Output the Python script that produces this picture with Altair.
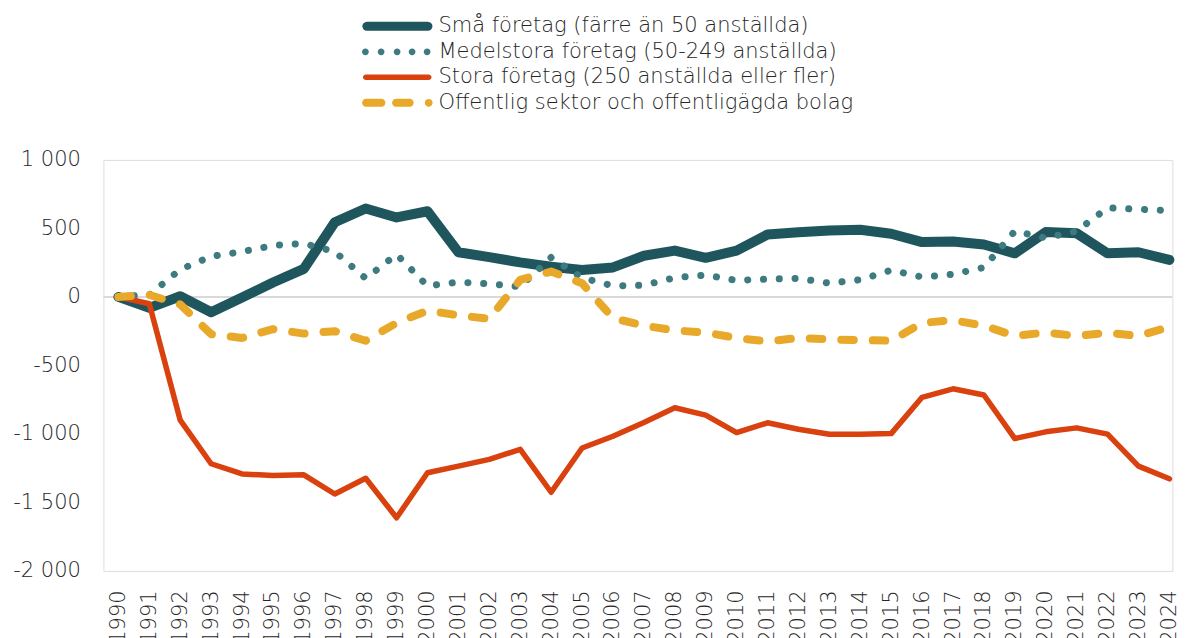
import math
import altair as alt
import pandas as pd

years = list(range(1990, 2025))

series_names = [
    "Små företag (färre än 50 anställda)",
    "Medelstora företag (50-249 anställda)",
    "Stora företag (250 anställda eller fler)",
    "Offentlig sektor och offentligägda bolag",
]

sma = [0, -80, 5, -112, -5, 105, 205, 545, 645, 580, 625, 326, 290, 252, 220,
       196, 215, 300, 338, 285, 338, 455, 472, 485, 490, 461, 400, 404, 382, 318,
       473, 465, 318, 326, 270]
medel = [0, 15, 200, 295, 330, 375, 390, 330, 135, 310, 80, 108, 95, 75, 288,
         140, 80, 85, 140, 160, 120, 130, 135, 100, 125, 195, 145, 165, 215, 480,
         430, 480, 650, 640, 630]
stora = [0, -50, -900, -1218, -1292, -1304, -1299, -1439, -1324, -1612, -1284,
         -1235, -1186, -1113, -1426, -1103, -1017, -917, -809, -863, -990, -919,
         -966, -1002, -1002, -998, -733, -671, -716, -1034, -985, -956, -1002,
         -1235, -1328]
offentlig = [0, 15, -55, -272, -300, -235, -268, -250, -320, -190, -100, -135,
             -160, 125, 185, 100, -155, -210, -245, -260, -300, -325, -300, -310,
             -315, -320, -190, -170, -210, -285, -260, -285, -262, -285, -220]

y_ticks = [-2000, -1500, -1000, -500, 0, 500, 1000]
zero_line = [0]

colors = ["#1f565e", "#3e7b80", "#d9410f", "#e8a82a"]
widths = [10, 7, 5.5, 8]
dashes = [None, [0.1, 15.7], None, [12.5, 19]]


def _path(pts):
    return "M" + "L".join(f"{x:.3f},{y:.3f}" for x, y in pts) + "Z"


def stadium(x1, x2, t, n=8):
    a, b = x1 + t, x2 - t
    pts = []
    for i in range(n + 1):
        ang = -math.pi / 2 + math.pi * i / n
        pts.append((b + t * math.cos(ang), t * math.sin(ang)))
    for i in range(n + 1):
        ang = math.pi / 2 + math.pi * i / n
        pts.append((a + t * math.cos(ang), t * math.sin(ang)))
    return _path(pts)


def dot(cx, r, n=16):
    return _path([(cx + r * math.cos(2 * math.pi * i / n),
                   r * math.sin(2 * math.pi * i / n)) for i in range(n)])


legend_shapes = [
    stadium(-11.5, 2.5, 0.9),
    "".join(dot(c, 0.68) for c in [-10.9, -7.76, -4.56, -1.56, 1.44]),
    stadium(-11.36, 2.3, 0.55),
    stadium(-11.56, -6.9, 0.8) + stadium(-5.56, -1.24, 0.8) + dot(1.76, 0.78),
]

rows = []
for name, vals in zip(series_names, [sma, medel, stora, offentlig]):
    for yr, v in zip(years, vals):
        rows.append({"serie": name, "year": yr, "value": v})
df = pd.DataFrame(rows)
zero_df = pd.DataFrame({"value": zero_line})

FONT = "DejaVu Sans"
TXT = "#262626"
FS = 21

yscale = alt.Scale(domain=[-2000, 1000], nice=False, zero=False)
xscale = alt.Scale(padding=0.291, align=0.833)
yaxis = alt.Axis(
    values=y_ticks, ticks=False, domain=False, grid=False, labelPadding=23,
    labelFont=FONT, labelFontSize=FS, labelFontWeight=200, labelColor=TXT,
    labelExpr="(datum.value < 0 ? '-' : '') + replace(format(abs(datum.value), ','), ',', ' ')",
    title=None)
xaxis = alt.Axis(
    labelAngle=270, ticks=False, domain=False, grid=False, labelPadding=19,
    labelFont=FONT, labelFontSize=FS, labelFontWeight=200, labelColor=TXT,
    labelOverlap=False, title=None)
color_scale = alt.Scale(domain=series_names, range=colors)

legend = alt.Legend(
    orient="none", legendX=306, legendY=-144.1, direction="vertical", title=None,
    labelFont=FONT, labelFontSize=FS, labelFontWeight=200, labelColor=TXT,
    labelOffset=8, labelLimit=0, symbolSize=100, symbolOpacity=1,
    symbolStrokeWidth=0, rowPadding=3.5, padding=0,
)

keys = alt.Chart(df).mark_point(filled=True, opacity=0, strokeWidth=0).encode(
    x=alt.X("year:O", sort=years, scale=xscale, axis=xaxis),
    y=alt.Y("value:Q", scale=yscale, axis=yaxis),
    color=alt.Color("serie:N", scale=color_scale, legend=legend),
    shape=alt.Shape("serie:N", scale=alt.Scale(domain=series_names, range=legend_shapes), legend=legend),
)

zero = alt.Chart(zero_df).mark_rule(color="#d9d9d9", strokeWidth=2).encode(
    y=alt.Y("value:Q", scale=yscale, axis=yaxis)
)

layers = [keys, zero]
for name, w, d in zip(series_names, widths, dashes):
    props = dict(strokeCap="round", strokeJoin="round", strokeWidth=w)
    if d is not None:
        props["strokeDash"] = d
    layers.append(
        alt.Chart(df).transform_filter(alt.datum.serie == name).mark_line(**props).encode(
            x=alt.X("year:O", sort=years, scale=xscale, axis=xaxis),
            y=alt.Y("value:Q", scale=yscale, axis=yaxis),
            color=alt.Color("serie:N", scale=color_scale, legend=None),
        )
    )

chart = alt.layer(*layers).properties(
    width=1069, height=411,
    padding={"left": 4.4, "top": 6.9, "right": -2.5, "bottom": 0},
).configure_view(stroke=None).configure(font=FONT).configure_axis(
    grid=False, domain=False, ticks=False)

chart.save("out.html", embed_options={"renderer": "svg", "actions": False})
